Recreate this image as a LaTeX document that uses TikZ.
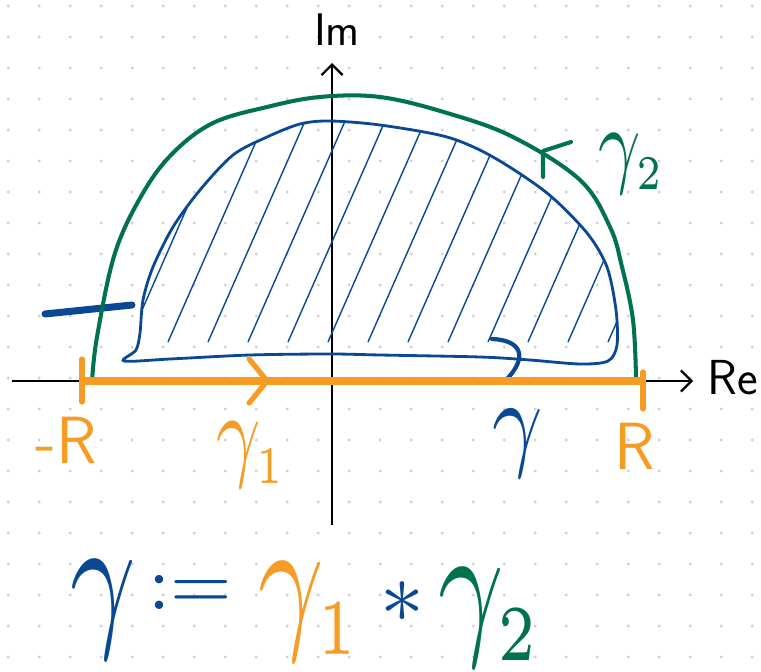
\documentclass[tikz,border=0pt]{standalone}
\usepackage{amsmath,amssymb}
\usepackage{graphicx}
\usepackage{tikz}
\usetikzlibrary{arrows.meta,decorations.markings}

\definecolor{penblue}{RGB}{10,72,148}
\definecolor{penorange}{RGB}{246,155,35}
\definecolor{pengreen}{RGB}{0,114,80}
\definecolor{griddot}{RGB}{208,208,208}

% math written large (the math fonts come in fixed sizes only)
\newcommand{\penmath}[3]{\scalebox{#1}[#2]{$#3$}}

\begin{document}
\begin{tikzpicture}[
    x=0.02cm, y=-0.02cm,
    axis/.style={line width=1.3pt, -{Straight Barb[length=6pt,width=12pt,line width=1.3pt]}},
    contour/.style={penblue, line width=1.6pt},
    hatch/.style={penblue, line width=0.8pt},
    arc2/.style={pengreen, line width=2.3pt},
    segment/.style={penorange, line width=5pt},
    tick/.style={penorange, line width=3pt, line cap=round},
    lbl/.style={inner sep=0pt, font=\sffamily\fontsize{#1}{#1}\selectfont},
    lbl/.default=38,
    sym/.style={inner sep=0pt}
  ]
  \useasboundingbox (0,0) rectangle (761,672);

  % dotted paper
  \foreach \i in {0,...,24}
    \foreach \j in {0,...,21}
      \fill[griddot] (8.3+31*\i, 6+31*\j) circle (1.6);

  % axes
  \coordinate (xstart) at (12,381);
  \coordinate (xend) at (693,381);
  \coordinate (ystart) at (332,525);
  \coordinate (yend) at (332,63);
  \draw[axis] (xstart) -- (xend);
  \draw[axis] (ystart) -- (yend);
  \node[lbl=26, anchor=south] (imlabel) at (337,46) {Im};
  \node[lbl=28, anchor=west] (relabel) at (707,378) {Re};

  % shaded region
  \def\regionpath{plot[smooth cycle, tension=0.5] coordinates {
    (124,361) (136,350) (140,333) (143,300) (153,267) (173,227) (200,190)
    (233,155) (267,137) (300,124) (330,121) (380,125) (447,137) (493,157)
    (547,193) (587,233) (607,267) (616,310) (617,345) (608,361) (580,364)
    (530,360) (480,357) (380,355) (330,354) (250,355) (170,359)}}
  \begin{scope}
    \clip \regionpath;
    \foreach \i in {0,...,13}
      \draw[hatch] (128+40*\i, 342) -- ++(112,-255);
  \end{scope}
  \draw[contour] \regionpath;
  \draw[contour, line width=2.4pt, line cap=round]
    (492,339) .. controls (520,340) and (530,356) .. (505,381);
  \draw[penblue, line width=4pt, line cap=round] (45,314) -- (132,305);

  % gamma_2
  \draw[arc2] plot[smooth, tension=0.6] coordinates {
    (92,382) (97,337) (115,253) (143,193) (173,153) (213,123) (267,107)
    (320,97) (380,97) (447,113) (513,137) (580,180) (610,227) (622,267)
    (633,320) (636,378)};
  \coordinate (tip2) at (543,151);
  \draw[arc2, line cap=round, line join=round] (571,142) -- (tip2) -- (543,177);
  \node[sym, text=pengreen] (gammatwo) at (632,164) {\penmath{4.2}{5.5}{\gamma_{\scriptscriptstyle 2}}};

  % gamma_1
  \coordinate (mR) at (82,381);
  \coordinate (pR) at (643,381);
  \draw[segment, postaction={decorate, decoration={markings,
      mark=at position 0.33 with {\draw[penorange, line width=3pt, line cap=round, line join=round]
        (-18,-22) -- (0,0) -- (-18,22);}}}] (mR) -- (pR);
  \draw[tick] (82,359) -- (82,402);
  \draw[tick] (643,372) -- (643,409);
  \node[lbl=38, text=penorange] (mrlabel) at (66,440) {-R};
  \node[lbl=38, text=penorange] (rlabel) at (635,446) {R};
  \node[sym, text=penorange] (gammaone) at (252,455) {\penmath{4.4}{6}{\gamma_{\scriptscriptstyle 1}}};
  \node[sym, text=penblue] (gammalabel) at (518,444) {\penmath{5}{6.2}{\gamma}};

  % definition
  \node[sym, text=penblue] (defgamma) at (103,610) {\penmath{6.5}{9}{\gamma}};
  \node[sym, text=penblue] (defeq) at (190,592) {\penmath{4.5}{4.5}{:=}};
  \node[sym, text=penorange] (defone) at (310,612) {\penmath{6.5}{9}{\gamma_{\scriptscriptstyle 1}}};
  \node[sym, text=penblue] (defstar) at (402,602) {\penmath{5}{5}{\ast}};
  \node[sym, text=pengreen] (deftwo) at (490,618) {\penmath{6.5}{9}{\gamma_{\scriptscriptstyle 2}}};
\end{tikzpicture}
\end{document}
